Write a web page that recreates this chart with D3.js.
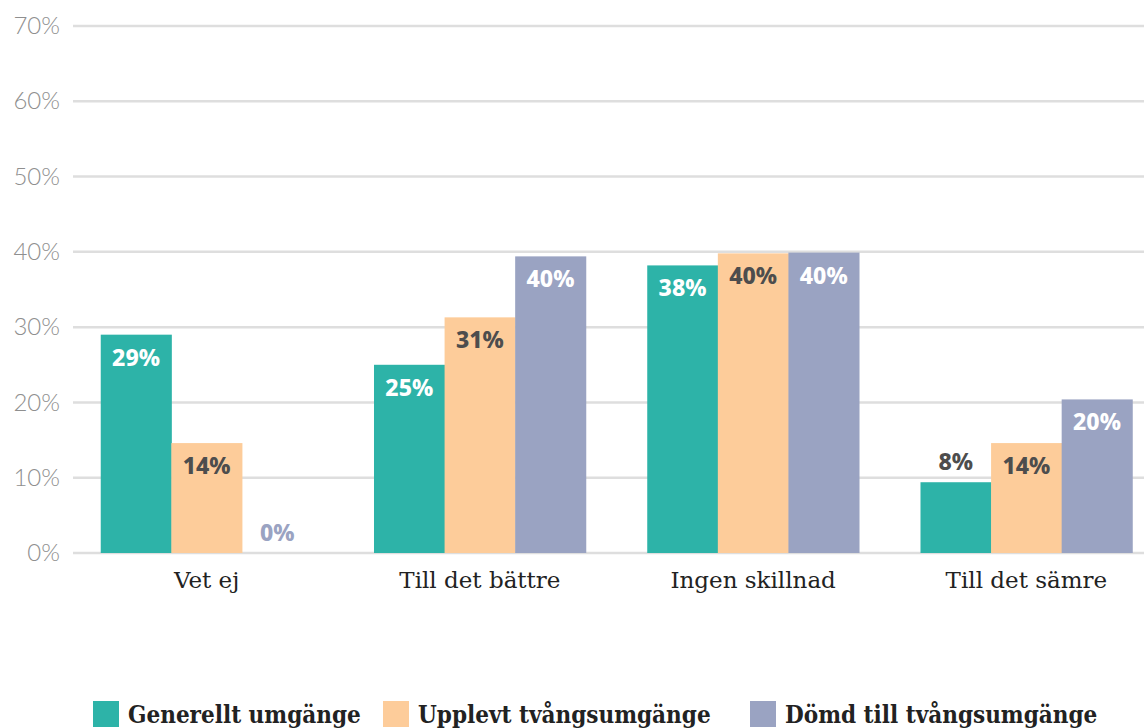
<!DOCTYPE html>
<meta charset="utf-8">
<style>
    body { margin: 0; background: #fff; }
    .axis--y text { font: 300 24px Lato, sans-serif; fill: #8f8f8f; }
    .cat { font: 23px "DejaVu Serif", serif; fill: #222; }
    .val { font: 800 23px "Noto Sans", sans-serif; }
    .legend text { font: 700 24px "DejaVu Serif Condensed", "DejaVu Serif", serif; font-stretch: condensed; fill: #222; }
</style>
<svg width="1144" height="728"></svg>
<script src="https://d3js.org/d3.v7.min.js"></script>
<script>

var categories = ["Vet ej", "Till det bättre", "Ingen skillnad", "Till det sämre"];
var seriesNames = ["Generellt umgänge", "Upplevt tvångsumgänge", "Dömd till tvångsumgänge"];
// bar heights as drawn (percent)
var generellt = [29, 25, 38.2, 9.4];
var upplevt = [14.6, 31.3, 39.8, 14.6];
var domd = [0, 39.4, 39.9, 20.4];
// printed labels
var generelltLabels = ["29%", "25%", "38%", "8%"];
var upplevtLabels = ["14%", "31%", "40%", "14%"];
var domdLabels = ["0%", "40%", "40%", "20%"];
var yTicks = [0, 10, 20, 30, 40, 50, 60, 70];

var colors = ["#2db3a8", "#fdcc9a", "#9aa3c2"];
var insideText = ["#ffffff", "#4d4d4d", "#ffffff"];
var outsideText = ["#4d4d4d", "#4d4d4d", "#9aa3c2"];

var svg = d3.select("svg");

var y = d3.scaleLinear().domain([0, 70]).range([553, 26]);
var x0 = d3.scaleBand().domain(categories).range([70, 1163])
    .paddingInner(0.225).paddingOuter(0.1125);
var x1 = d3.scaleBand().domain(seriesNames).range([0, x0.bandwidth()]);

// gridlines
svg.append("g").selectAll("line")
    .data(yTicks).enter().append("line")
    .attr("x1", 73).attr("x2", 1144)
    .attr("y1", function(d) { return y(d); })
    .attr("y2", function(d) { return y(d); })
    .attr("stroke", "#dedede").attr("stroke-width", 2.5);

// y axis labels
var yAxis = svg.append("g").attr("class", "axis axis--y")
    .attr("transform", "translate(60,0)")
    .call(d3.axisLeft(y).tickValues(yTicks).tickSize(0).tickPadding(0)
        .tickFormat(function(d) { return d + "%"; }));
yAxis.select(".domain").remove();

var values = [generellt, upplevt, domd];
var labels = [generelltLabels, upplevtLabels, domdLabels];

var rows = [];
categories.forEach(function(c, i) {
  seriesNames.forEach(function(s, j) {
    rows.push({cat: c, s: s, j: j, v: values[j][i], label: labels[j][i]});
  });
});

var bars = svg.append("g");
bars.selectAll("rect").data(rows).enter().append("rect")
    .attr("x", function(d) { return x0(d.cat) + x1(d.s); })
    .attr("width", x1.bandwidth() + 0.5)
    .attr("y", function(d) { return y(d.v); })
    .attr("height", function(d) { return y(0) - y(d.v); })
    .attr("fill", function(d) { return colors[d.j]; });

// labels go inside tall bars, above short ones
bars.selectAll("text").data(rows).enter().append("text")
    .attr("class", "val")
    .attr("text-anchor", "middle")
    .attr("x", function(d) { return x0(d.cat) + x1(d.s) + x1.bandwidth() / 2; })
    .attr("y", function(d) {
      var h = y(0) - y(d.v);
      return h > 80 ? y(d.v) + 31 : y(d.v) - 12;
    })
    .attr("fill", function(d) {
      var h = y(0) - y(d.v);
      return h > 80 ? insideText[d.j] : outsideText[d.j];
    })
    .text(function(d) { return d.label; });

// category labels
svg.append("g").selectAll("text")
    .data(categories).enter().append("text")
    .attr("class", "cat")
    .attr("text-anchor", "middle")
    .attr("x", function(d) { return x0(d) + x0.bandwidth() / 2; })
    .attr("y", 588)
    .text(function(d) { return d; });

// legend
var legendX = [93, 383, 750];
var legend = svg.append("g").attr("class", "legend");
var li = legend.selectAll("g").data(seriesNames).enter().append("g")
    .attr("transform", function(d, i) { return "translate(" + legendX[i] + ",701)"; });
li.append("rect").attr("width", 26).attr("height", 26)
    .attr("fill", function(d, i) { return colors[i]; });
li.append("text").attr("x", 35).attr("y", 22).text(function(d) { return d; });

</script>
